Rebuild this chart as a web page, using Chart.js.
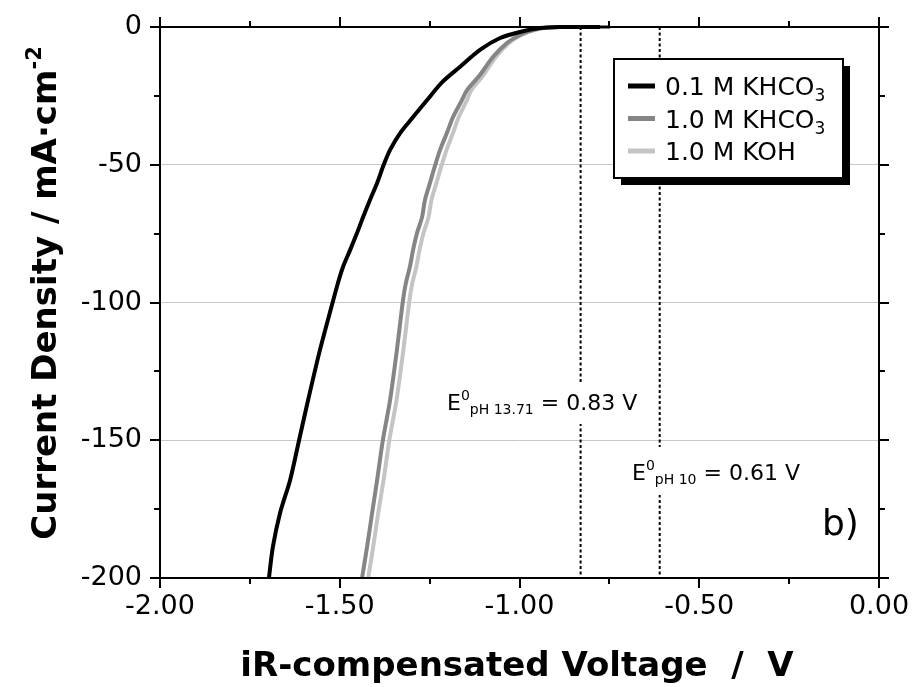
<!DOCTYPE html>
<html>
<head>
<meta charset="utf-8">
<script src="https://cdn.jsdelivr.net/npm/chart.js@4.4.1/dist/chart.umd.min.js"></script>
<style>
  html, body { margin: 0; padding: 0; background: #fff; }
  #wrap { width: 914px; height: 687px; }
</style>
</head>
<body>
<div id="wrap"><canvas id="lsv" width="914" height="687"></canvas></div>
<script>
// Current density (mA/cm2) vs iR-compensated voltage (V)
const blackV = [-1.697, -1.686, -1.666, -1.638, -1.613, -1.588, -1.555, -1.518, -1.505, -1.491, -1.471, -1.452, -1.435, -1.416,
                -1.396, -1.378, -1.360, -1.332, -1.296, -1.257, -1.215, -1.166, -1.110, -1.054, -0.999, -0.943, -0.887, -0.776];
const blackJ = [-200, -188.7, -176.4, -164.4, -149.9, -135.4, -117.2, -99.1, -92.9, -87.1, -80.9, -74.8, -69.0, -62.8,
                -56.6, -50.1, -44.6, -38.5, -32.7, -26.5, -20.0, -14.5, -8.3, -4.0, -1.8, -0.4, 0, 0];

const darkV = [-1.438, -1.424, -1.410, -1.396, -1.380, -1.360, -1.341, -1.324, -1.316, -1.305, -1.296, -1.285, -1.271, -1.263,
               -1.249, -1.236, -1.221, -1.202, -1.185, -1.160, -1.146, -1.110, -1.074, -1.035, -0.999, -0.962, -0.923, -0.887, -0.748];
const darkJ = [-200, -188.7, -176.4, -164.4, -149.9, -135.4, -117.2, -99.1, -92.9, -87.1, -80.9, -74.8, -69.0, -62.8,
               -56.6, -50.8, -44.6, -38.5, -32.7, -26.5, -22.9, -17.4, -10.9, -5.8, -2.9, -1.1, -0.2, 0, 0];

const lightV = [-1.421, -1.407, -1.393, -1.378, -1.362, -1.342, -1.323, -1.306, -1.298, -1.287, -1.278, -1.267, -1.253, -1.245,
                -1.231, -1.218, -1.203, -1.185, -1.169, -1.146, -1.134, -1.100, -1.066, -1.029, -0.995, -0.960, -0.922, -0.887, -0.748];
const lightJ = darkJ;

const seriesNames = ['0.1 M KHCO', '1.0 M KHCO', '1.0 M KOH'];
const seriesSubs = ['3', '3', ''];
const seriesColors = ['#000000', '#858585', '#c4c4c4'];

// equilibrium potentials (dashed markers)
const refV = [-0.83, -0.61];
const refSub = ['pH 13.71', 'pH 10'];
const refText = [' = 0.83 V', ' = 0.61 V'];

const xMajorTicks = [-2, -1.5, -1, -0.5, 0];
const xMinorTicks = [-1.75, -1.25, -0.75, -0.25];
const yMajorTicks = [0, -50, -100, -150, -200];
const yMinorTicks = [-25, -75, -125, -175];
const yGridValues = [-50, -100, -150];

const FONT = 'DejaVu Sans';
Chart.defaults.font.family = FONT;
Chart.defaults.color = '#000';

function pts(xs, ys) {
    return xs.map((x, i) => ({ x: x, y: ys[i] }));
}

// draws text made of pieces (normal / superscript / subscript), returns width
function drawRich(ctx, x, y, parts, measureOnly) {
    let cx = x;
    parts.forEach(p => {
        ctx.font = (p.bold ? 'bold ' : '') + p.size + 'px "' + FONT + '"';
        if (!measureOnly) ctx.fillText(p.t, cx, y + (p.dy || 0));
        cx += ctx.measureText(p.t).width;
    });
    return cx - x;
}

const decorations = {
    id: 'decorations',
    afterDatasetsDraw(chart) {
        const ctx = chart.ctx;
        ctx.save();
        ctx.fillStyle = '#000';
        ctx.textAlign = 'left';
        ctx.textBaseline = 'alphabetic';

        // labels for the dashed lines, on white boxes
        const labelPos = [{ x: 447, y: 410, boxTop: 383, boxBot: 424 }, { x: 632, y: 480, boxTop: 447, boxBot: 495 }];
        refV.forEach((v, i) => {
            const parts = [
                { t: 'E', size: 22 },
                { t: '0', size: 14, dy: -10 },
                { t: refSub[i], size: 14, dy: 4 },
                { t: refText[i], size: 22 }
            ];
            const lp = labelPos[i];
            const w = drawRich(ctx, lp.x, lp.y, parts, true);
            ctx.fillStyle = '#fff';
            ctx.fillRect(lp.x - 4, lp.boxTop, w + 8, lp.boxBot - lp.boxTop);
            ctx.fillStyle = '#000';
            drawRich(ctx, lp.x, lp.y, parts);
        });

        // legend with drop shadow
        const lx = 614, ly = 59, lw = 229, lh = 119;
        ctx.fillStyle = '#000';
        ctx.fillRect(lx + 7, ly + 7, lw, lh);
        ctx.fillStyle = '#fff';
        ctx.fillRect(lx, ly, lw, lh);
        ctx.lineWidth = 2;
        ctx.strokeStyle = '#000';
        ctx.strokeRect(lx, ly, lw, lh);
        seriesNames.forEach((name, i) => {
            const cy = 86 + i * 32.5;
            ctx.beginPath();
            ctx.lineWidth = 5;
            ctx.strokeStyle = seriesColors[i];
            ctx.moveTo(628, cy);
            ctx.lineTo(655, cy);
            ctx.stroke();
            ctx.fillStyle = '#000';
            drawRich(ctx, 665, cy + 9, [{ t: name, size: 25 }, { t: seriesSubs[i], size: 17, dy: 6 }]);
        });

        ctx.font = '36px "' + FONT + '"';
        ctx.fillText('b)', 822, 535);
        ctx.restore();
    },
    afterDraw(chart) {
        const ctx = chart.ctx;
        const a = chart.chartArea;
        const xs = chart.scales.x;
        const ys = chart.scales.y;
        ctx.save();
        ctx.strokeStyle = '#000';
        ctx.lineWidth = 2;
        ctx.strokeRect(a.left, a.top, a.right - a.left, a.bottom - a.top);

        ctx.beginPath();
        const tick = (vals, len) => {
            vals.forEach(v => {
                const px = Math.round(xs.getPixelForValue(v));
                ctx.moveTo(px, a.bottom); ctx.lineTo(px, a.bottom + len);
                ctx.moveTo(px, a.top); ctx.lineTo(px, a.top - len);
            });
        };
        const ytick = (vals, len) => {
            vals.forEach(v => {
                const py = Math.round(ys.getPixelForValue(v));
                ctx.moveTo(a.left, py); ctx.lineTo(a.left - len, py);
                ctx.moveTo(a.right, py); ctx.lineTo(a.right + len, py);
            });
        };
        tick(xMajorTicks, 10);
        tick(xMinorTicks, 6);
        ytick(yMajorTicks, 10);
        ytick(yMinorTicks, 6);
        ctx.stroke();

        // axis titles
        ctx.fillStyle = '#000';
        ctx.textAlign = 'left';
        ctx.textBaseline = 'alphabetic';
        const xt = [{ t: 'iR-compensated Voltage  /  V', size: 34, bold: true }];
        const xw = drawRich(ctx, 0, 0, xt, true);
        drawRich(ctx, 517 - xw / 2, 676, xt);

        const yt = [{ t: 'Current Density / mA·cm', size: 34, bold: true }, { t: '-2', size: 21, bold: true, dy: -15 }];
        const yw = drawRich(ctx, 0, 0, yt, true);
        ctx.translate(56, 293);
        ctx.rotate(-Math.PI / 2);
        drawRich(ctx, -yw / 2, 0, yt);
        ctx.restore();
    }
};

const datasets = [
    { data: pts(blackV, blackJ), borderColor: seriesColors[0], borderWidth: 4 },
    { data: pts(darkV, darkJ), borderColor: seriesColors[1], borderWidth: 4 },
    { data: pts(lightV, lightJ), borderColor: seriesColors[2], borderWidth: 4 }
];
refV.forEach(v => {
    datasets.push({
        data: [{ x: v, y: 0 }, { x: v, y: -200 }],
        borderColor: '#000',
        borderWidth: 2,
        borderDash: [3, 2.5],
        tension: 0
    });
});
datasets.forEach(d => {
    d.showLine = true;
    d.pointRadius = 0;
    d.fill = false;
    if (d.tension === undefined) d.tension = 0.3;
    d.clip = 5;
});

new Chart(document.getElementById('lsv'), {
    type: 'scatter',
    data: { datasets: datasets },
    options: {
        responsive: false,
        animation: false,
        events: [],
        layout: { padding: { left: 0, right: 35, top: 27, bottom: 0 } },
        plugins: { legend: { display: false }, tooltip: { enabled: false } },
        scales: {
            x: {
                type: 'linear',
                min: -2, max: 0,
                afterBuildTicks: s => { s.ticks = xMajorTicks.map(v => ({ value: v })); },
                afterFit: s => { s.height = 109; s.paddingLeft = 0; s.paddingRight = 0; },
                border: { display: false },
                grid: { display: false, drawTicks: false },
                ticks: {
                    padding: 13,
                    font: { size: 27 },
                    color: '#000',
                    maxRotation: 0,
                    autoSkip: false,
                    callback: v => Number(v).toFixed(2)
                }
            },
            y: {
                type: 'linear',
                min: -200, max: 0,
                afterBuildTicks: s => { s.ticks = yMajorTicks.map(v => ({ value: v })); },
                afterFit: s => { s.width = 160; s.paddingTop = 0; s.paddingBottom = 0; },
                border: { display: false },
                grid: {
                    drawTicks: false,
                    lineWidth: 1,
                    color: c => (c.tick && yGridValues.includes(c.tick.value)) ? '#c8c8c8' : 'rgba(0,0,0,0)'
                },
                ticks: {
                    padding: 18,
                    font: { size: 27 },
                    color: '#000',
                    autoSkip: false,
                    callback: v => String(v)
                }
            }
        }
    },
    plugins: [decorations]
});
</script>
</body>
</html>
